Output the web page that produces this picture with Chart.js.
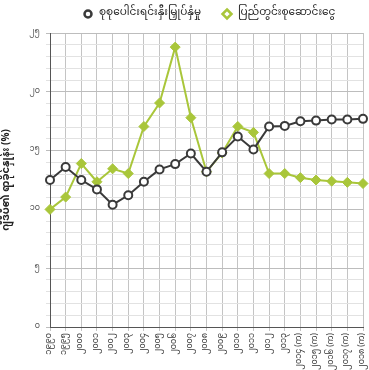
<!DOCTYPE html>
<html>
<head>
<meta charset="utf-8">
<script src="https://cdn.jsdelivr.net/npm/chart.js@4/dist/chart.umd.min.js"></script>
<style>
  html, body { margin: 0; padding: 0; background: #ffffff; }
  #wrap { width: 369px; height: 370px; position: relative; }
</style>
</head>
<body>
<div id="wrap"><canvas id="c"></canvas></div>
<script>
const categories = ['၁၉၉၀','၁၉၉၅','၂၀၀၀','၂၀၀၁','၂၀၀၂','၂၀၀၃','၂၀၀၄','၂၀၀၅','၂၀၀၆','၂၀၀၇','၂၀၀၈','၂၀၀၉','၂၀၁၀','၂၀၁၁','၂၀၁၂','၂၀၁၃','၂၀၁၄ (က)','၂၀၁၅ (က)','၂၀၁၆ (က)','၂၀၁၇ (က)','၂၀၁၈ (က)'];
const investment = [12.5, 13.6, 12.5, 11.7, 10.4, 11.2, 12.35, 13.4, 13.85, 14.75, 13.2, 14.85, 16.2, 15.1, 17.05, 17.1, 17.5, 17.55, 17.65, 17.65, 17.7];
const savings = [10.0, 11.05, 13.9, 12.35, 13.45, 13.05, 17.05, 19.05, 23.8, 17.8, 13.2, 14.8, 17.05, 16.55, 13.05, 13.05, 12.7, 12.5, 12.4, 12.3, 12.2];
const seriesNames = ['စုစုပေါင်းရင်းနှီးမြှုပ်နှံမှု', 'ပြည်တွင်းစုဆောင်းငွေ'];
const yTickValues = [0, 5, 10, 15, 20, 25];
const yTickLabels = ['၀', '၅', '၁၀', '၁၅', '၂၀', '၂၅'];
const yTitle = 'ဂျီဒီပီ၏ ရာခိုင်နှုန်း (%)';

const FONT = '"Noto Sans Myanmar", "Padauk", "Myanmar Text", "Noto Sans", sans-serif';
const DARK = '#3a3a3a';
const GREEN = '#a9c63a';

// Legend drawn from the datasets (names/styles come from the chart data)
const topLegend = {
  id: 'topLegend',
  afterDraw: function(chart) {
    const ctx = chart.ctx;
    const markerX = [88, 227];
    const y = 14;
    ctx.save();
    ctx.font = '10.5px ' + FONT;
    ctx.textBaseline = 'middle';
    ctx.textAlign = 'left';
    chart.data.datasets.forEach(function(ds, i) {
      const mx = markerX[i];
      ctx.fillStyle = '#ffffff';
      ctx.strokeStyle = ds.borderColor;
      ctx.lineWidth = 2.5;
      ctx.beginPath();
      if (ds.pointStyle === 'circle') {
        ctx.arc(mx, y, 3.5, 0, Math.PI * 2);
      } else {
        ctx.moveTo(mx, y - 4.5);
        ctx.lineTo(mx + 4.5, y);
        ctx.lineTo(mx, y + 4.5);
        ctx.lineTo(mx - 4.5, y);
        ctx.closePath();
      }
      ctx.fill();
      ctx.stroke();
      ctx.fillStyle = '#222';
      ctx.fillText(ds.label, mx + 11, y);
    });
    ctx.restore();
  }
};

new Chart(document.getElementById('c'), {
  type: 'line',
  data: {
    labels: categories,
    datasets: [
      {
        label: seriesNames[0],
        data: investment,
        borderColor: DARK,
        backgroundColor: '#ffffff',
        pointStyle: 'circle',
        pointRadius: 4,
        pointBorderWidth: 2,
        pointBorderColor: DARK,
        pointBackgroundColor: '#ffffff',
        borderWidth: 2,
        tension: 0,
        order: 0
      },
      {
        label: seriesNames[1],
        data: savings,
        borderColor: GREEN,
        backgroundColor: GREEN,
        pointStyle: 'rectRot',
        pointRadius: 5,
        pointBorderWidth: 1,
        pointBorderColor: GREEN,
        pointBackgroundColor: GREEN,
        borderWidth: 2,
        tension: 0,
        order: 1
      }
    ]
  },
  options: {
    responsive: true,
    maintainAspectRatio: false,
    animation: false,
    layout: { padding: { left: 0, right: 5, top: 33, bottom: 0 } },
    plugins: {
      legend: { display: false },
      tooltip: { enabled: false }
    },
    scales: {
      x: {
        offset: false,
        afterFit: function(scale) {
          scale.height = 43;
          scale.paddingLeft = 0;
          scale.paddingRight = 0;
        },
        grid: { color: '#c4c4c4', lineWidth: 1, drawTicks: true, tickLength: 4 },
        border: { color: '#555', width: 1 },
        ticks: {
          autoSkip: false,
          maxRotation: 90,
          minRotation: 90,
          color: '#333',
          padding: 2,
          font: { family: FONT, size: 8 }
        }
      },
      y: {
        min: 0,
        max: 25,
        afterFit: function(scale) {
          scale.width = 50;
        },
        title: {
          display: true,
          text: yTitle,
          color: '#222',
          font: { family: FONT, size: 10, weight: 'bold' },
          padding: { top: 2, bottom: 12 }
        },
        grid: {
          color: function(ctx) {
            return yTickValues.indexOf(ctx.tick.value) >= 0 ? '#bdbdbd' : '#e2e2e2';
          },
          lineWidth: 1,
          tickLength: 4
        },
        border: { color: '#555', width: 1 },
        ticks: {
          stepSize: 1,
          autoSkip: false,
          color: '#555',
          padding: 6,
          font: { family: FONT, size: 8 },
          callback: function(v) {
            const i = yTickValues.indexOf(v);
            return i >= 0 ? yTickLabels[i] : '';
          }
        }
      }
    }
  },
  plugins: [topLegend]
});
</script>
</body>
</html>
